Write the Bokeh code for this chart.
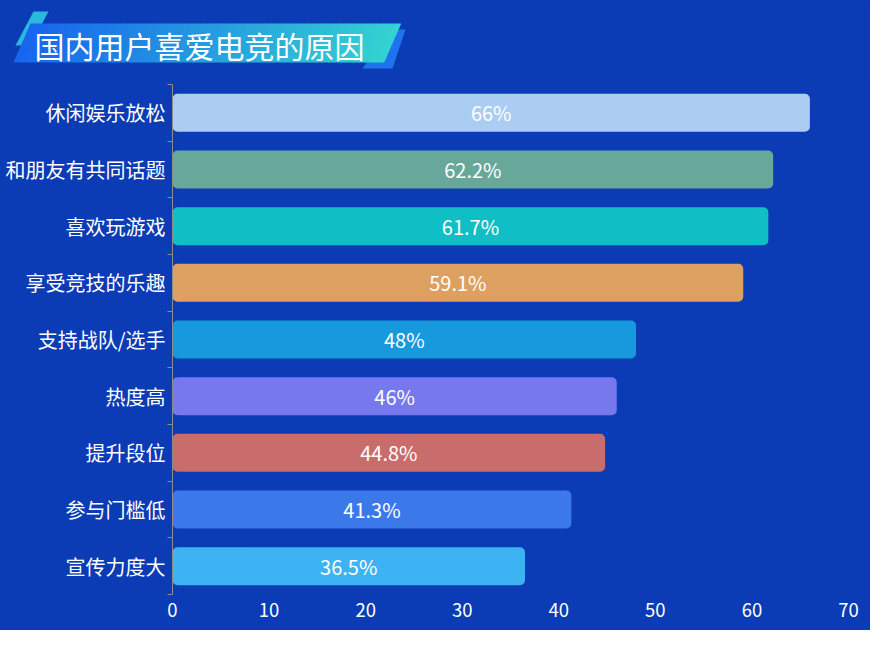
from bokeh.plotting import figure
from bokeh.layouts import column, row
from bokeh.models import Range1d, FixedTicker, ColumnDataSource
from bokeh.core.properties import value
from bokeh.embed import file_html
from bokeh.resources import INLINE

title = "国内用户喜爱电竞的原因"
categories = ["休闲娱乐放松", "和朋友有共同话题", "喜欢玩游戏", "享受竞技的乐趣",
              "支持战队/选手", "热度高", "提升段位", "参与门槛低", "宣传力度大"]
values = [66, 62.2, 61.7, 59.1, 48, 46, 44.8, 41.3, 36.5]
colors = ["#abcdf1", "#68a89b", "#10bec6", "#dea061", "#1899dd",
          "#7878ee", "#c86c6c", "#3b79eb", "#3db3f3"]
x_ticks = [0, 10, 20, 30, 40, 50, 60, 70]

FONT = "Noto Sans CJK SC"
BG = "#0b3cb5"

W = 870
HEAD = 82            # height of the title strip
FL, FR = 172, 848    # frame left/right in pixels
FT, FB = 84, 594     # frame top/bottom in page pixels
H = 630 - HEAD

# ---------------- title strip ----------------
t = figure(width=W, height=HEAD, x_range=Range1d(0, W), y_range=Range1d(HEAD, 0),
           output_backend="svg", toolbar_location=None,
           x_axis_type=None, y_axis_type=None,
           min_border=0, min_border_left=0, min_border_right=0,
           min_border_top=0, min_border_bottom=0,
           background_fill_color=BG, border_fill_color=BG,
           outline_line_color=BG, outline_line_width=2)
t.xgrid.visible = False
t.ygrid.visible = False

pxs, pys, pcs = [], [], []
def poly(pts, col):
    pxs.append([x for x, _ in pts])
    pys.append([y for _, y in pts])
    pcs.append(col)

poly([(33, 11), (48, 11), (30, 45), (15, 45)], "#2ab8dc")
poly([(390, 29), (405, 29), (392, 68), (362, 68)], "#1f74ee")
c0 = (0x18, 0x66, 0xee)
c1 = (0x34, 0xd2, 0xd2)
N = 60
left, right, top, bot, slant = 30.0, 400.0, 23.0, 62.0, 17.0
w = (right - left) / N
for i in range(N):
    f = i / (N - 1)
    col = "#%02x%02x%02x" % tuple(int(a + (b - a) * f) for a, b in zip(c0, c1))
    xa0 = left + i * w
    xa1 = xa0 + w + 0.7
    poly([(xa0, top), (xa1, top), (xa1 - slant, bot), (xa0 - slant, bot)], col)
t.patches(xs=pxs, ys=pys, fill_color=pcs, line_color=None)
t.text(x=[34], y=[44], text=[title], text_color="white", text_font_size="30px",
       text_align="left", text_baseline="middle", text_font=value(FONT))

# ---------------- bar chart ----------------
n = len(categories)
ys = [n - 1 - i for i in range(n)]
src = ColumnDataSource(dict(
    y=ys, v=values, c=colors,
    xm=[v / 2 for v in values],
    t=[f"{v:g}%" for v in values],
))

p = figure(width=W, height=H, x_range=Range1d(0, 70), y_range=Range1d(-0.5, n - 0.5),
           output_backend="svg", toolbar_location=None,
           min_border_left=FL, min_border_right=W - FR, min_border_top=FT - HEAD,
           min_border_bottom=630 - FB,
           background_fill_color=BG, border_fill_color=BG,
           outline_line_color=BG, outline_line_width=1)

p.hbar(y="y", left=0, right="v", height=0.67, fill_color="c", line_color=None,
       border_radius=5, source=src)
p.text(x="xm", y="y", text="t", text_color="white", text_font_size="20px",
       text_align="center", text_baseline="middle", text_font=value(FONT), source=src)

p.xgrid.visible = False
p.ygrid.visible = False

ya = p.yaxis[0]
ya.ticker = FixedTicker(ticks=ys, minor_ticks=[k - 0.5 for k in range(n + 1)])
ya.major_label_overrides = {y: c for y, c in zip(ys, categories)}
ya.major_tick_line_color = None
ya.major_tick_out = 0
ya.major_tick_in = 0
ya.minor_tick_line_color = "#8c8c8c"
ya.minor_tick_out = 5
ya.minor_tick_in = 0
ya.axis_line_color = "#8c8c8c"
ya.major_label_text_color = "white"
ya.major_label_text_font_size = "20px"
ya.major_label_text_font = FONT
ya.major_label_standoff = 2

xa = p.xaxis[0]
xa.ticker = FixedTicker(ticks=x_ticks)
xa.axis_line_color = None
xa.major_tick_line_color = None
xa.minor_tick_line_color = None
xa.major_tick_out = 0
xa.major_label_text_color = "white"
xa.major_label_text_font_size = "18.5px"
xa.major_label_text_font = FONT
xa.major_label_standoff = 8

layout = column(row(t, styles={"background-color": BG}), p, spacing=0,
                styles={"background-color": BG})
open("out.html", "w").write(file_html(layout, INLINE))
